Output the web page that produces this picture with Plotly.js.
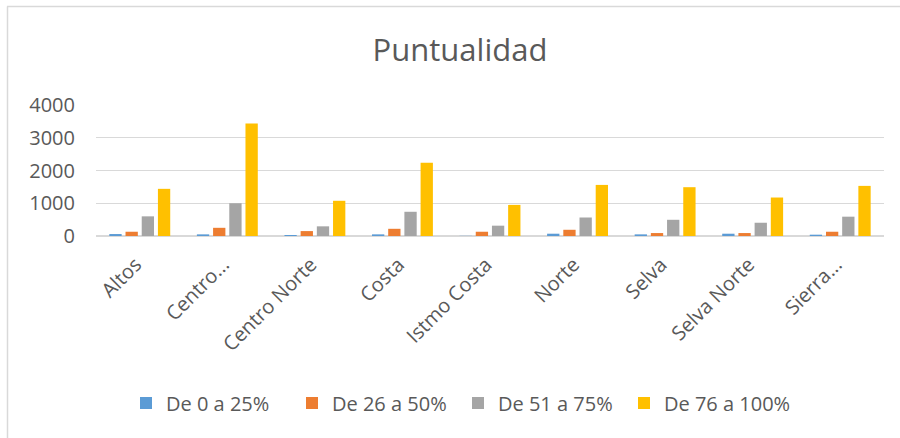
<!DOCTYPE html>
<html>
<head>
<meta charset="utf-8">
<script src="https://cdn.plot.ly/plotly-3.0.1.min.js"></script>
<style>html,body{margin:0;padding:0;background:#fff;}#chart{width:900px;height:438px;}</style>
</head>
<body>
<div id="chart"></div>
<script>
const categories = ["Altos","Centro...","Centro Norte","Costa","Istmo Costa","Norte","Selva","Selva Norte","Sierra..."];
const seriesNames = ["De 0 a 25%","De 26 a 50%","De 51 a 75%","De 76 a 100%"];
const de0a25   = [60, 50, 30, 50, 5, 70, 50, 70, 40];
const de26a50  = [130, 250, 150, 220, 130, 190, 90, 90, 130];
const de51a75  = [600, 1000, 295, 740, 315, 565, 495, 405, 590];
const de76a100 = [1440, 3435, 1075, 2240, 950, 1560, 1490, 1175, 1530];
const yTicks = [0, 1000, 2000, 3000, 4000];
const colors = ["#5b9bd5","#ed7d31","#a5a5a5","#ffc000"];

const FONT = "'Open Sans', sans-serif";
const seriesValues = [de0a25, de26a50, de51a75, de76a100];
const traces = seriesValues.map((vals, i) => ({
  type: "bar",
  name: seriesNames[i],
  x: categories,
  y: vals,
  marker: {color: colors[i]},
  hoverinfo: "x+y+name"
}));

const W = 788, H = 131, L = 96, T = 105, B = 202;
const px = v => (v - L) / W;
const py = v => (T + H - v) / H;

const layout = {
  width: 900, height: 438,
  margin: {l: L, r: 900 - L - W, t: T, b: B},
  paper_bgcolor: "#ffffff",
  plot_bgcolor: "#ffffff",
  font: {family: FONT, color: "#595959", size: 20},
  title: {text: "Puntualidad", font: {family: FONT, size: 31, color: "#595959"},
          x: px(460), xref: "paper", xanchor: "center", y: 0.885, yref: "container", yanchor: "middle"},
  barmode: "group",
  bargap: 0.26,
  bargroupgap: 0.24,
  showlegend: true,
  legend: {orientation: "h", x: px(126), xref: "paper", xanchor: "left",
           y: py(403), yanchor: "middle",
           font: {family: FONT, size: 20, color: "#595959"},
           itemwidth: 30, entrywidth: 121, entrywidthmode: "pixels", traceorder: "normal"},
  xaxis: {type: "category", tickangle: -45, showgrid: false, showline: false,
          ticks: "", ticklabelstandoff: 12, ticklabelshift: -4,
          tickfont: {family: FONT, size: 20, color: "#595959"},
          zeroline: false, fixedrange: true},
  yaxis: {range: [0, 4000], tickvals: yTicks, ticktext: yTicks.map(String),
          showgrid: true, gridcolor: "#d9d9d9", gridwidth: 1.3,
          zeroline: true, zerolinecolor: "#d9d9d9", zerolinewidth: 1.5,
          showline: false, ticks: "", ticklabelstandoff: 20,
          tickfont: {family: FONT, size: 20, color: "#595959"}, fixedrange: true},
  shapes: [
    {type: "line", xref: "paper", yref: "paper", x0: px(7.5), x1: px(7.5), y0: py(6.5), y1: py(440),
     line: {color: "#d9d9d9", width: 1.5}},
    {type: "line", xref: "paper", yref: "paper", x0: px(7), x1: px(902), y0: py(6.5), y1: py(6.5),
     line: {color: "#d9d9d9", width: 1.5}}
  ]
};

Plotly.newPlot("chart", traces, layout, {displayModeBar: false, staticPlot: true});
</script>
</body>
</html>
